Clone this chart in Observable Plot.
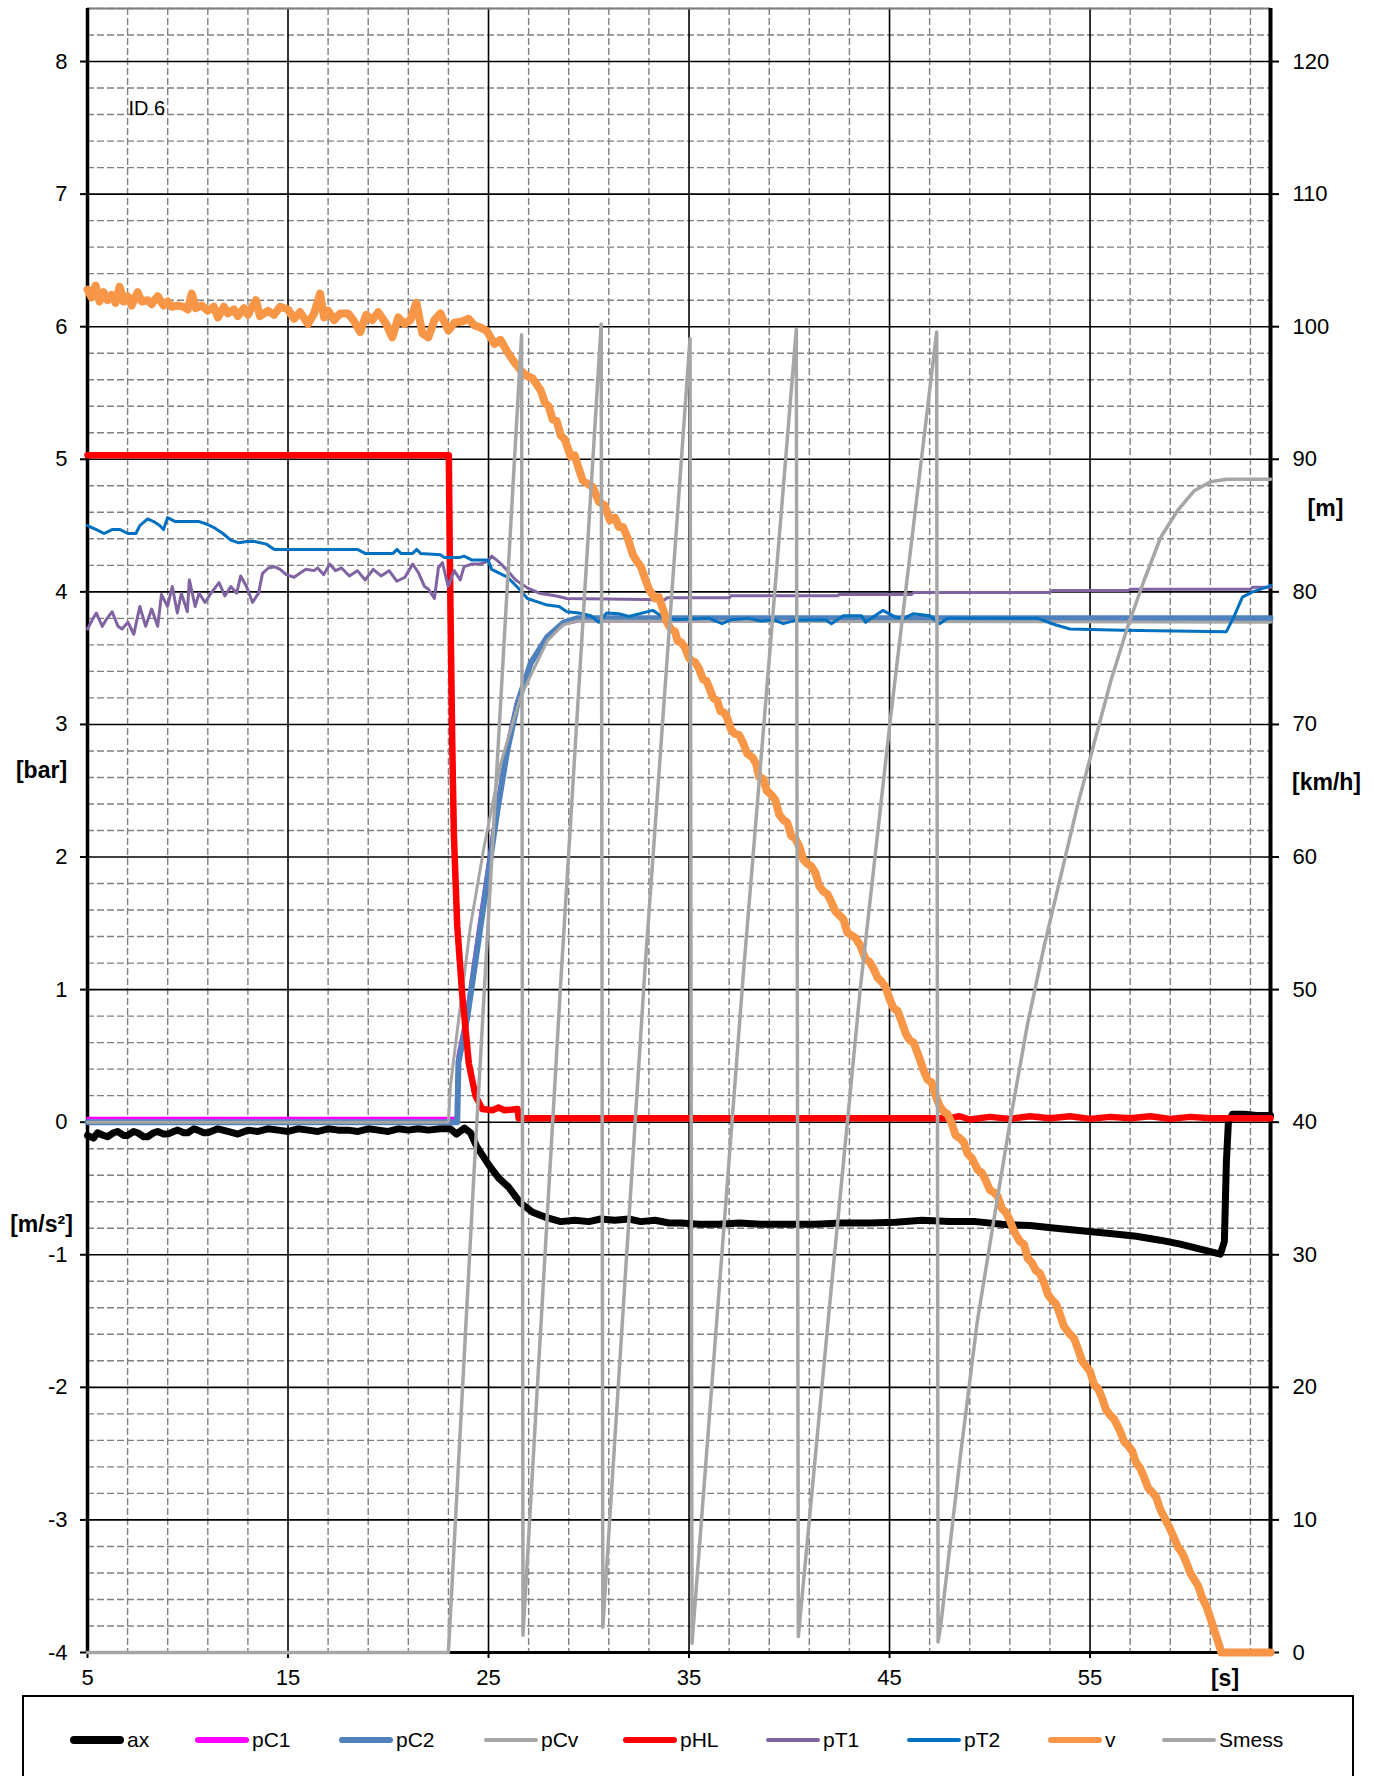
<!DOCTYPE html>
<html><head><meta charset="utf-8">
<script src="https://cdn.jsdelivr.net/npm/d3@7"></script>
<script src="https://cdn.jsdelivr.net/npm/@observablehq/plot@0.6"></script>
<style>
body{margin:0;background:#fff;font-family:"Liberation Sans",Arial,sans-serif;}
#wrap{position:relative;width:1380px;height:1776px;overflow:hidden;background:#fff;}
#legend{position:absolute;left:22px;top:1695px;width:1332px;height:130px;border:2px solid #000;box-sizing:border-box;}
.item{position:absolute;top:31px;height:24px;display:flex;align-items:center;font-size:21px;color:#000;}
.item .ln{display:inline-block;width:54px;border-radius:5px;margin-right:3px;}
</style></head><body>
<div id="wrap"><div id="chart"></div><div id="legend"></div></div>
<script>
// ---- tick values ----
const xMajor = [5, 15, 25, 35, 45, 55];
const xMinor = [7, 9, 11, 13, 17, 19, 21, 23, 27, 29, 31, 33, 37, 39, 41, 43, 47, 49, 51, 53, 57, 59, 61, 63];
const yMajor = [-4, -3, -2, -1, 0, 1, 2, 3, 4, 5, 6, 7, 8];
const yMinor = d3.range(-19, 43).map(i => +(i * 0.2).toFixed(1)).filter(v => Math.abs(v - Math.round(v)) > 1e-6);

// ---- series: [time s, value] ----
const ax = [[5,-0.1],[5.3,-0.12],[5.5,-0.08],[5.8,-0.1],[6,-0.11],[6.3,-0.08],[6.5,-0.07],[6.8,-0.1],[7,-0.1],[7.3,-0.07],[7.5,-0.08],[7.8,-0.11],[8,-0.11],[8.3,-0.08],[8.5,-0.07],[8.8,-0.09],[9,-0.09],[9.3,-0.07],[9.5,-0.06],[9.8,-0.08],[10,-0.08],[10.3,-0.05],[10.5,-0.06],[10.8,-0.08],[11,-0.08],[11.5,-0.05],[12,-0.07],[12.5,-0.09],[13,-0.06],[13.5,-0.07],[14,-0.05],[14.5,-0.06],[15,-0.07],[15.5,-0.05],[16,-0.06],[16.5,-0.07],[17,-0.05],[17.5,-0.06],[18,-0.06],[18.5,-0.07],[19,-0.05],[19.5,-0.06],[20,-0.07],[20.5,-0.05],[21,-0.06],[21.5,-0.05],[22,-0.06],[22.6,-0.05],[23.1,-0.05],[23.4,-0.09],[23.8,-0.045],[24.1,-0.08],[24.4,-0.18],[25.0,-0.32],[25.5,-0.42],[26.0,-0.49],[26.6,-0.61],[27.2,-0.68],[27.9,-0.72],[28.6,-0.75],[29.3,-0.74],[30.0,-0.75],[30.6,-0.73],[31.3,-0.74],[32,-0.73],[32.6,-0.75],[33.3,-0.74],[34,-0.76],[34.6,-0.76],[35.5,-0.77],[36.5,-0.77],[37.5,-0.76],[38.6,-0.77],[40,-0.77],[41.3,-0.77],[42.6,-0.76],[44,-0.76],[45.3,-0.755],[46.6,-0.74],[48,-0.75],[49.3,-0.75],[50.6,-0.77],[52,-0.78],[53.3,-0.8],[54.7,-0.82],[56,-0.84],[57.3,-0.86],[58.5,-0.89],[59.5,-0.92],[60.3,-0.95],[61.1,-0.98],[61.5,-0.995],[61.7,-0.9],[61.8,-0.3],[61.9,0.0],[62.1,0.06],[62.7,0.06],[63.3,0.05],[64,0.05]];

const pC1 = [[5,0.03],[23.4,0.03],[23.47,0.5],[23.9,0.82],[24.4,1.36],[24.9,1.87],[25.4,2.38],[25.9,2.83],[26.4,3.17],[27.1,3.47],[27.9,3.66],[28.8,3.76],[29.5,3.78],[64,3.78]];

const pC2 = [[5,0],[23.44,0],[23.5,0.45],[23.94,0.79],[24.44,1.31],[24.94,1.83],[25.44,2.35],[25.93,2.8],[26.43,3.15],[27.1,3.46],[27.93,3.66],[28.76,3.77],[29.42,3.8],[64,3.8]];

const pCv = [[5,0],[23.0,0],[23.1,0.27],[23.44,0.69],[24.1,1.48],[24.77,2.07],[25.6,2.7],[26.6,3.21],[27.93,3.63],[28.7,3.75],[29.42,3.78],[64,3.77]];

const pHL = [[5,5.03],[23.02,5.03],[23.07,4.25],[23.19,2.87],[23.27,2.18],[23.44,1.48],[23.69,0.96],[24.02,0.44],[24.35,0.2],[24.69,0.1],[25.2,0.09],[25.5,0.11],[25.8,0.09],[26.45,0.1],[26.5,0.03],[40,0.03],[48,0.03],[48.5,0.045],[49,0.02],[50,0.04],[51,0.025],[52,0.045],[53,0.03],[54,0.045],[55,0.025],[56,0.04],[57,0.03],[58,0.045],[59,0.025],[60,0.04],[61,0.03],[64,0.03]];

const pT1 = [[5.0,3.72],[5.24,3.79],[5.44,3.84],[5.74,3.74],[5.93,3.79],[6.23,3.85],[6.52,3.74],[6.72,3.72],[7.02,3.77],[7.31,3.68],[7.61,3.89],[7.9,3.74],[8.2,3.87],[8.5,3.74],[8.69,3.98],[8.99,3.89],[9.23,4.04],[9.48,3.84],[9.68,3.99],[9.98,3.85],[10.08,4.09],[10.37,3.89],[10.57,3.99],[10.86,3.92],[11.16,3.99],[11.56,4.07],[11.85,3.97],[12.15,4.04],[12.44,3.99],[12.64,4.12],[12.93,4.04],[13.23,3.92],[13.53,3.99],[13.73,4.14],[14.02,4.18],[14.32,4.19],[14.61,4.17],[14.91,4.13],[15.3,4.11],[15.5,4.13],[15.89,4.17],[16.29,4.16],[16.48,4.18],[16.78,4.13],[17.08,4.21],[17.37,4.16],[17.67,4.18],[18.06,4.12],[18.46,4.16],[18.85,4.09],[19.25,4.17],[19.64,4.12],[20.04,4.16],[20.43,4.08],[20.83,4.11],[21.22,4.21],[21.52,4.14],[21.81,4.04],[22.01,4.02],[22.3,3.95],[22.5,4.18],[22.7,4.22],[22.99,4.04],[23.29,4.16],[23.59,4.09],[23.78,4.19],[24.18,4.21],[24.57,4.21],[24.97,4.23],[25.16,4.27],[25.56,4.22],[25.95,4.16],[26.35,4.09],[26.94,4.03],[27.53,3.99],[28.32,3.97],[28.91,3.95],[33.8,3.94],[33.9,3.955],[37.0,3.955],[37.1,3.97],[42.4,3.97],[42.5,3.98],[46.1,3.98],[46.2,3.995],[53.0,3.995],[53.1,4.01],[56.9,4.01],[57.0,4.02],[63.0,4.02],[63.1,4.035],[64,4.035]];

const pT2 = [[5.0,4.5],[5.44,4.47],[5.83,4.44],[6.23,4.47],[6.62,4.47],[7.02,4.44],[7.41,4.44],[7.61,4.5],[8.0,4.55],[8.3,4.53],[8.6,4.5],[8.79,4.47],[8.99,4.56],[9.38,4.53],[10.57,4.53],[10.96,4.51],[11.36,4.48],[11.75,4.44],[12.15,4.39],[12.54,4.37],[12.94,4.38],[13.33,4.38],[13.92,4.36],[14.32,4.32],[18.46,4.32],[18.85,4.29],[20.24,4.29],[20.43,4.32],[20.63,4.29],[21.22,4.29],[21.42,4.32],[21.61,4.29],[22.6,4.28],[22.8,4.26],[23.59,4.26],[23.78,4.27],[24.18,4.24],[24.97,4.24],[25.16,4.17],[25.56,4.14],[25.95,4.11],[26.54,4.02],[26.94,3.95],[27.33,3.93],[27.93,3.9],[28.52,3.89],[28.91,3.85],[29.5,3.84],[30.1,3.82],[30.5,3.77],[30.89,3.84],[31.5,3.835],[32.0,3.815],[33.2,3.86],[33.6,3.82],[34.3,3.79],[36.0,3.8],[36.65,3.76],[37.1,3.79],[37.95,3.8],[38.6,3.78],[39.2,3.79],[39.7,3.76],[40.3,3.785],[41.8,3.79],[42.1,3.76],[42.7,3.82],[43.6,3.82],[43.8,3.77],[44.66,3.86],[45.3,3.81],[45.7,3.8],[46.2,3.835],[47.0,3.82],[47.5,3.76],[47.9,3.8],[52.4,3.8],[53.3,3.75],[54.0,3.72],[56.6,3.71],[61.8,3.7],[62.2,3.82],[62.6,3.96],[63.1,4.0],[63.9,4.04],[64,4.05]];

// v in km/h (right axis)
const vKmh = [[5,102.8],[5.2,102.2],[5.4,103.1],[5.6,101.9],[5.8,102.6],[6.0,102.0],[6.2,102.4],[6.4,101.8],[6.6,103.0],[6.8,101.9],[7.0,102.3],[7.2,101.6],[7.5,102.6],[7.7,101.9],[8.0,102.0],[8.2,101.7],[8.5,102.3],[8.8,101.6],[9.0,101.9],[9.2,101.5],[9.5,101.6],[9.8,101.5],[10.0,101.3],[10.2,102.5],[10.4,101.4],[10.7,101.6],[11.0,101.2],[11.3,101.5],[11.5,100.7],[11.8,101.5],[12.0,101.0],[12.3,101.3],[12.5,100.8],[12.8,101.4],[13.0,100.9],[13.4,102.0],[13.6,100.8],[14.0,101.2],[14.3,100.9],[14.6,101.5],[15.0,101.3],[15.3,100.6],[15.6,101.1],[16.0,100.2],[16.3,101.0],[16.6,102.5],[16.8,100.7],[17.0,101.2],[17.3,100.5],[17.6,101.0],[18.0,101.0],[18.3,100.4],[18.6,99.6],[18.9,100.9],[19.2,100.5],[19.5,101.1],[19.9,100.2],[20.2,99.2],[20.5,100.7],[20.8,100.2],[21.1,100.5],[21.4,101.8],[21.7,99.5],[22.0,99.2],[22.3,100.5],[22.6,101.0],[23.0,99.7],[23.3,100.3],[23.7,100.4],[24.0,100.6],[24.3,100.1],[24.5,100.0],[24.9,99.7],[25.1,99.2],[25.3,98.7],[25.6,99.0],[25.9,98.2],[26.2,97.5],[26.6,96.7],[26.9,96.3],[27.2,96.1],[27.6,95.2],[27.8,94.3],[28.0,94.0],[28.2,93.0],[28.4,92.9],[28.6,91.8],[28.8,91.5],[29.1,90.2],[29.3,90.3],[29.5,89.3],[29.7,88.4],[30.0,88.1],[30.2,87.9],[30.5,86.8],[30.8,86.5],[31.05,85.4],[31.3,85.6],[31.5,84.9],[31.7,84.9],[31.93,84.1],[32.2,82.8],[32.4,82.3],[32.6,81.9],[32.83,80.9],[33.0,80.2],[33.3,79.5],[33.5,79.6],[33.72,78.6],[33.9,77.7],[34.1,77.2],[34.3,77.0],[34.43,76.3],[34.6,76.2],[34.8,75.8],[35.0,75.0],[35.15,74.8],[35.3,74.7],[35.5,74.2],[35.7,73.4],[35.86,73.3],[36.0,72.8],[36.2,72.0],[36.4,71.8],[36.57,71.0],[36.75,70.9],[36.9,70.5],[37.1,69.6],[37.28,69.3],[37.5,69.2],[37.7,68.6],[37.9,67.8],[38.17,67.5],[38.35,67.0],[38.5,66.0],[38.7,65.9],[38.88,65.0],[39.1,64.7],[39.3,64.3],[39.5,63.2],[39.7,62.8],[39.9,62.6],[40.1,61.6],[40.3,61.4],[40.5,60.8],[40.7,59.8],[40.9,59.5],[41.1,59.3],[41.3,58.8],[41.5,57.8],[41.7,57.4],[41.9,57.2],[42.1,56.6],[42.3,55.9],[42.5,55.6],[42.7,55.3],[42.9,54.3],[43.1,54.1],[43.3,53.9],[43.55,53.3],[43.8,52.3],[44.0,52.1],[44.2,51.6],[44.4,50.9],[44.6,50.6],[44.8,50.2],[45.0,49.3],[45.2,48.6],[45.4,48.4],[45.6,47.6],[45.8,46.7],[46.0,46.2],[46.2,46.0],[46.5,44.8],[46.7,43.9],[46.9,43.2],[47.1,43.0],[47.3,42.0],[47.5,41.2],[47.7,40.8],[47.9,40.6],[48.1,39.9],[48.3,39.0],[48.5,38.8],[48.7,38.5],[48.9,37.6],[49.1,37.3],[49.4,36.4],[49.6,36.2],[49.8,35.6],[50.0,34.9],[50.2,34.7],[50.4,34.4],[50.6,33.5],[50.8,33.2],[51.0,32.6],[51.2,31.8],[51.5,31.0],[51.7,30.8],[51.9,29.7],[52.1,29.4],[52.3,28.8],[52.5,28.6],[52.7,27.9],[52.9,27.0],[53.1,26.6],[53.3,26.3],[53.5,25.5],[53.7,24.6],[54.0,24.0],[54.2,23.7],[54.4,22.9],[54.6,22.0],[54.8,21.6],[55.0,21.2],[55.2,20.2],[55.4,19.9],[55.6,19.2],[55.8,18.3],[56.0,17.9],[56.2,17.6],[56.5,16.7],[56.7,15.9],[56.9,15.6],[57.1,15.2],[57.3,14.3],[57.5,13.9],[57.7,13.2],[57.9,12.4],[58.1,12.1],[58.3,11.7],[58.5,10.8],[58.7,10.2],[59.0,9.3],[59.2,8.6],[59.4,7.9],[59.6,7.5],[59.8,6.8],[60.0,6.0],[60.2,5.5],[60.4,5.0],[60.6,4.1],[60.8,3.5],[61.0,2.6],[61.15,1.9],[61.3,1.2],[61.45,0.5],[61.55,0],[64,0]];

// Smess in m (right axis)
const smess = [[5,0],[23.0,0],[24.27,36],[25.26,62.5],[26.65,99.4],[26.72,1.3],[28.6,50.5],[30.62,100.2],[30.7,1.9],[32.8,51.5],[35.05,99.1],[35.15,0.7],[37.7,51],[40.35,99.8],[40.45,1.2],[42.0,26],[43.55,50.2],[45.05,70.5],[46.55,89.5],[47.35,99.6],[47.42,0.8],[47.55,2],[48.54,14.9],[49.37,24.9],[50.2,32.6],[51.03,40.2],[51.87,47.3],[52.7,53.2],[53.53,58.5],[54.36,63.8],[55.19,68.5],[56.02,73.2],[56.86,77.3],[57.68,80.8],[58.52,84.1],[59.35,86.1],[60.18,87.6],[61.0,88.3],[61.8,88.5],[64,88.5]];

const seriesNames = ["ax","pC1","pC2","pCv","pHL","pT1","pT2","v","Smess"];
const seriesColors = ["#000000","#FF00FF","#4F81BD","#A6A6A6","#FF0000","#8064A2","#0070C0","#F79646","#A6A6A6"];
const lineWidths = [7, 3, 6, 3, 6.5, 3, 3, 8, 3.5];
const legendWidths = [8, 6, 6, 4, 6, 4, 4, 6, 4];
const legendLefts = [70, 195, 339, 484, 623, 766, 907, 1048, 1162];

const leftSeries = [ax, pC1, pC2, pCv, pHL, pT1, pT2];
const kmh = d => d[1] / 10 - 4; // right axis (0..120) onto left scale (-4..8)

const lineOpts = i => ({stroke: seriesColors[i], strokeWidth: lineWidths[i], strokeLinejoin: "round", strokeLinecap: "round"});
const titleOpts = {fontSize: 23, fontWeight: "bold", fill: "#000", textAnchor: "middle", lineAnchor: "middle"};

const marks = [
  Plot.ruleY(yMinor, {stroke: "#808080", strokeWidth: 1.4, strokeDasharray: "7,3"}),
  Plot.ruleX(xMinor, {stroke: "#808080", strokeWidth: 1.4, strokeDasharray: "7,3"}),
  Plot.ruleY(yMajor, {stroke: "#000", strokeWidth: 1.6}),
  Plot.ruleX(xMajor, {stroke: "#000", strokeWidth: 1.6}),
  Plot.ruleY([8.4], {stroke: "#808080", strokeWidth: 2}),
  Plot.ruleX([5], {stroke: "#000", strokeWidth: 3.5}),
  Plot.ruleX([64], {stroke: "#000", strokeWidth: 4}),
  Plot.ruleY([-4], {stroke: "#000", strokeWidth: 3}),
  Plot.axisY(yMajor, {anchor: "left", tickSize: 7, tickPadding: 13, strokeWidth: 2, tickFormat: d => String(d), label: null}),
  Plot.axisY(yMajor, {anchor: "right", tickSize: 8, tickPadding: 14, strokeWidth: 2, tickFormat: d => String((d + 4) * 10), label: null}),
  Plot.axisX(xMajor, {anchor: "bottom", tickSize: 6, tickPadding: 11, strokeWidth: 2, tickFormat: d => String(d), label: null}),
];
leftSeries.forEach((s, i) => marks.push(Plot.line(s, {x: d => d[0], y: d => d[1], ...lineOpts(i)})));
marks.push(Plot.line(vKmh, {x: d => d[0], y: kmh, ...lineOpts(7)}));
marks.push(Plot.line(smess, {x: d => d[0], y: kmh, ...lineOpts(8)}));
// annotations
marks.push(
  Plot.text(["ID 6"], {frameAnchor: "top-left", dx: 41, dy: 100, textAnchor: "start", lineAnchor: "middle", fontSize: 20, fill: "#000"}),
  Plot.text(["[bar]"], {frameAnchor: "left", dx: -46, dy: -60, ...titleOpts}),
  Plot.text(["[m/s²]"], {frameAnchor: "left", dx: -46, dy: 394, ...titleOpts}),
  Plot.text(["[m]"], {frameAnchor: "right", dx: 55, dy: -322, ...titleOpts}),
  Plot.text(["[km/h]"], {frameAnchor: "right", dx: 56, dy: -48, ...titleOpts}),
  Plot.text(["[s]"], {frameAnchor: "bottom", dx: 546, dy: 26, ...titleOpts})
);

const chart = Plot.plot({
  width: 1380, height: 1694,
  marginLeft: 87, marginRight: 110, marginTop: 8, marginBottom: 42,
  x: {domain: [5, 64]},
  y: {domain: [-4, 8.4]},
  style: {fontFamily: "'Liberation Sans', Arial, sans-serif", fontSize: "22px", color: "#000", background: "#fff", overflow: "visible"},
  marks
});
document.getElementById("chart").appendChild(chart);

// legend
const lg = document.getElementById("legend");
seriesNames.forEach((n, i) => {
  const it = document.createElement("div");
  it.className = "item";
  it.style.left = (legendLefts[i] - 24) + "px";
  const ln = document.createElement("span");
  ln.className = "ln";
  ln.style.height = legendWidths[i] + "px";
  ln.style.background = seriesColors[i];
  it.appendChild(ln);
  it.appendChild(document.createTextNode(n));
  lg.appendChild(it);
});
</script></body></html>
